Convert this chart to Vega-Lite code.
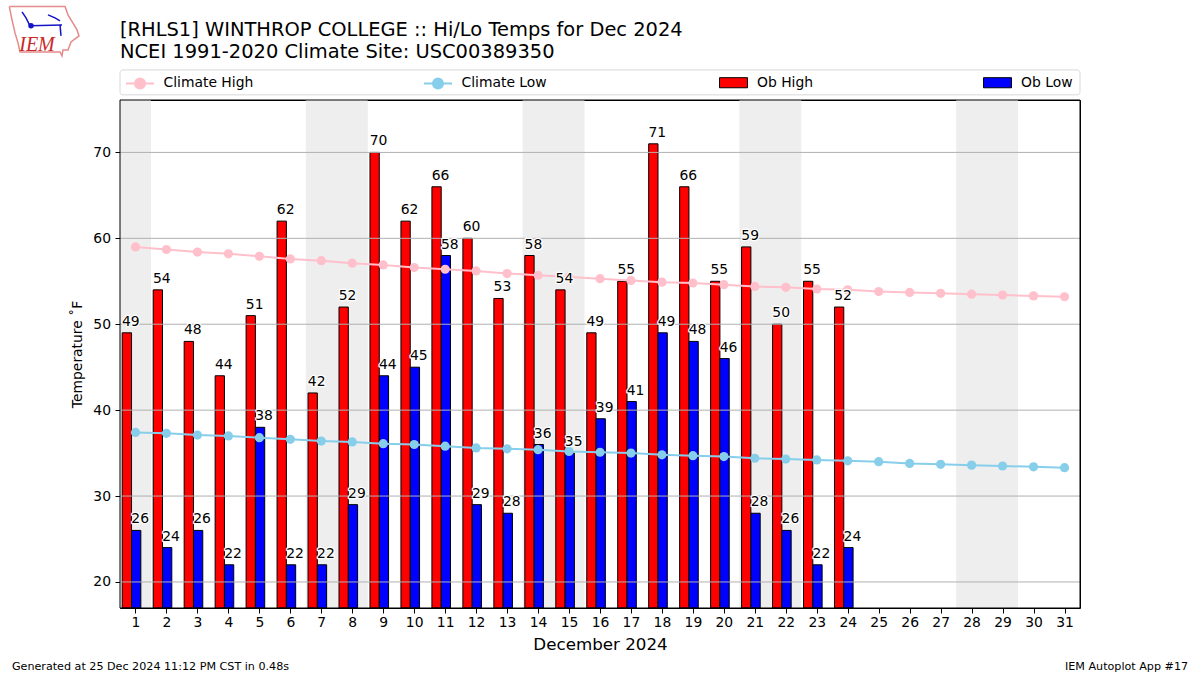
{"$schema":"https://vega.github.io/schema/vega-lite/v6.json","width":960,"height":508,"autosize":{"type":"none"},"padding":{"left":120,"top":100,"right":120,"bottom":67},"background":"white","config":{"font":"DejaVu Sans","view":{"stroke":"black","strokeWidth":1},"axis":{"labelColor":"black","titleColor":"black","tickColor":"black","labelFontSize":13.9,"titleFontWeight":"normal","grid":false,"domain":false,"tickSize":5,"labelOverlap":false,"labelFlush":false},"legend":{"labelFontSize":13.9,"labelColor":"black","title":null,"padding":0}},"title":{"text":["[RHLS1] WINTHROP COLLEGE :: Hi/Lo Temps for Dec 2024","NCEI 1991-2020 Climate Site: USC00389350"],"anchor":"start","frame":"group","fontSize":19.45,"fontWeight":"normal","color":"black","lineHeight":22,"offset":0,"dy":58.7},"datasets":{"weekends":[{"start":0.5,"end":1.5},{"start":6.5,"end":8.5},{"start":13.5,"end":15.5},{"start":20.5,"end":22.5},{"start":27.5,"end":29.5}],"gridlines":[{"temp":20},{"temp":30},{"temp":40},{"temp":50},{"temp":60},{"temp":70}],"obs":[{"day":1,"high":49,"low":26},{"day":2,"high":54,"low":24},{"day":3,"high":48,"low":26},{"day":4,"high":44,"low":22},{"day":5,"high":51,"low":38},{"day":6,"high":62,"low":22},{"day":7,"high":42,"low":22},{"day":8,"high":52,"low":29},{"day":9,"high":70,"low":44},{"day":10,"high":62,"low":45},{"day":11,"high":66,"low":58},{"day":12,"high":60,"low":29},{"day":13,"high":53,"low":28},{"day":14,"high":58,"low":36},{"day":15,"high":54,"low":35},{"day":16,"high":49,"low":39},{"day":17,"high":55,"low":41},{"day":18,"high":71,"low":49},{"day":19,"high":66,"low":48},{"day":20,"high":55,"low":46},{"day":21,"high":59,"low":28},{"day":22,"high":50,"low":26},{"day":23,"high":55,"low":22},{"day":24,"high":52,"low":24}],"climate":[{"day":1,"series":"Climate High","temp":59.0},{"day":2,"series":"Climate High","temp":58.7},{"day":3,"series":"Climate High","temp":58.4},{"day":4,"series":"Climate High","temp":58.2},{"day":5,"series":"Climate High","temp":57.9},{"day":6,"series":"Climate High","temp":57.6},{"day":7,"series":"Climate High","temp":57.4},{"day":8,"series":"Climate High","temp":57.1},{"day":9,"series":"Climate High","temp":56.9},{"day":10,"series":"Climate High","temp":56.6},{"day":11,"series":"Climate High","temp":56.4},{"day":12,"series":"Climate High","temp":56.2},{"day":13,"series":"Climate High","temp":55.9},{"day":14,"series":"Climate High","temp":55.7},{"day":15,"series":"Climate High","temp":55.5},{"day":16,"series":"Climate High","temp":55.3},{"day":17,"series":"Climate High","temp":55.1},{"day":18,"series":"Climate High","temp":54.9},{"day":19,"series":"Climate High","temp":54.8},{"day":20,"series":"Climate High","temp":54.6},{"day":21,"series":"Climate High","temp":54.4},{"day":22,"series":"Climate High","temp":54.3},{"day":23,"series":"Climate High","temp":54.1},{"day":24,"series":"Climate High","temp":54.0},{"day":25,"series":"Climate High","temp":53.8},{"day":26,"series":"Climate High","temp":53.7},{"day":27,"series":"Climate High","temp":53.6},{"day":28,"series":"Climate High","temp":53.5},{"day":29,"series":"Climate High","temp":53.4},{"day":30,"series":"Climate High","temp":53.3},{"day":31,"series":"Climate High","temp":53.2},{"day":1,"series":"Climate Low","temp":37.4},{"day":2,"series":"Climate Low","temp":37.3},{"day":3,"series":"Climate Low","temp":37.1},{"day":4,"series":"Climate Low","temp":37.0},{"day":5,"series":"Climate Low","temp":36.8},{"day":6,"series":"Climate Low","temp":36.6},{"day":7,"series":"Climate Low","temp":36.4},{"day":8,"series":"Climate Low","temp":36.3},{"day":9,"series":"Climate Low","temp":36.1},{"day":10,"series":"Climate Low","temp":36.0},{"day":11,"series":"Climate Low","temp":35.8},{"day":12,"series":"Climate Low","temp":35.6},{"day":13,"series":"Climate Low","temp":35.5},{"day":14,"series":"Climate Low","temp":35.4},{"day":15,"series":"Climate Low","temp":35.2},{"day":16,"series":"Climate Low","temp":35.1},{"day":17,"series":"Climate Low","temp":35.0},{"day":18,"series":"Climate Low","temp":34.8},{"day":19,"series":"Climate Low","temp":34.7},{"day":20,"series":"Climate Low","temp":34.6},{"day":21,"series":"Climate Low","temp":34.4},{"day":22,"series":"Climate Low","temp":34.3},{"day":23,"series":"Climate Low","temp":34.2},{"day":24,"series":"Climate Low","temp":34.1},{"day":25,"series":"Climate Low","temp":34.0},{"day":26,"series":"Climate Low","temp":33.8},{"day":27,"series":"Climate Low","temp":33.7},{"day":28,"series":"Climate Low","temp":33.6},{"day":29,"series":"Climate Low","temp":33.5},{"day":30,"series":"Climate Low","temp":33.4},{"day":31,"series":"Climate Low","temp":33.3}],"logo":[{"part":"outline","seq":1,"lx":-3.074,"ly":86.97},{"part":"outline","seq":2,"lx":-1.276,"ly":86.97},{"part":"outline","seq":3,"lx":-1.179,"ly":86.01},{"part":"outline","seq":4,"lx":-0.888,"ly":84.26},{"part":"outline","seq":5,"lx":-0.824,"ly":83.56},{"part":"outline","seq":6,"lx":-1.082,"ly":82.86},{"part":"outline","seq":7,"lx":-1.179,"ly":81.93},{"part":"outline","seq":8,"lx":-1.341,"ly":81.93},{"part":"outline","seq":9,"lx":-1.373,"ly":81.23},{"part":"outline","seq":10,"lx":-1.437,"ly":81.7},{"part":"outline","seq":11,"lx":-2.729,"ly":81.7},{"part":"outline","seq":12,"lx":-2.794,"ly":82.75},{"part":"outline","seq":13,"lx":-2.89,"ly":83.91},{"part":"outline","seq":14,"lx":-2.987,"ly":85.43},{"part":"outline","seq":15,"lx":-3.074,"ly":86.97},{"part":"a","seq":1,"lx":-2.664,"ly":86.36},{"part":"a","seq":2,"lx":-2.535,"ly":85.66},{"part":"a","seq":3,"lx":-2.406,"ly":84.73},{"part":"b","seq":1,"lx":-2.406,"ly":84.73},{"part":"b","seq":2,"lx":-1.373,"ly":84.84},{"part":"c","seq":1,"lx":-1.825,"ly":86.01},{"part":"c","seq":2,"lx":-1.599,"ly":85.66},{"part":"c","seq":3,"lx":-1.437,"ly":85.31},{"part":"d","seq":1,"lx":-1.437,"ly":84.84},{"part":"d","seq":2,"lx":-1.405,"ly":83.56}]},"layer":[{"data":{"values":[{"a":1}]},"mark":{"type":"rect","fill":"white","stroke":"#d8d8d8","strokeWidth":1,"cornerRadius":3},"encoding":{"x":{"datum":0.5,"type":"quantitative"},"x2":{"datum":31.5},"y":{"datum":79.6,"type":"quantitative"},"y2":{"datum":76.7}}},{"data":{"name":"weekends"},"mark":{"type":"rect","fill":"#eeeeee"},"encoding":{"x":{"field":"start","type":"quantitative","scale":{"domain":[0.5,31.5],"nice":false,"zero":false,"padding":0},"axis":{"values":[1,2,3,4,5,6,7,8,9,10,11,12,13,14,15,16,17,18,19,20,21,22,23,24,25,26,27,28,29,30,31],"title":"December 2024","titleFontSize":16.7,"format":"d","titlePadding":8,"labelOverlap":false,"tickCount":31}},"x2":{"field":"end"}}},{"data":{"name":"obs"},"mark":{"type":"bar","size":9.3,"xOffset":-8.6,"stroke":"black","strokeWidth":1},"encoding":{"x":{"field":"day","type":"quantitative","scale":{"domain":[0.5,31.5],"nice":false,"zero":false,"padding":0}},"y":{"field":"high","type":"quantitative"},"y2":{"datum":16.97},"fill":{"datum":"Ob High","type":"nominal","scale":{"domain":["Ob High","Ob Low"],"range":["#ff0000","#0000ff"]},"legend":{"orient":"none","legendX":599,"legendY":-32,"columns":2,"columnPadding":167,"gridAlign":"all","symbolType":"M-1,-0.36H1V0.36H-1Z","symbolSize":784,"symbolStrokeColor":"black","symbolStrokeWidth":1,"labelOffset":9}}}},{"data":{"name":"obs"},"mark":{"type":"bar","size":9.3,"xOffset":0.7,"stroke":"black","strokeWidth":1},"encoding":{"x":{"field":"day","type":"quantitative","scale":{"domain":[0.5,31.5],"nice":false,"zero":false,"padding":0}},"y":{"field":"low","type":"quantitative"},"y2":{"datum":16.97},"fill":{"datum":"Ob Low","type":"nominal"}}},{"data":{"name":"gridlines"},"mark":{"type":"rule","color":"#b0b0b0","strokeWidth":1},"encoding":{"y":{"field":"temp","type":"quantitative","scale":{"domain":[16.97,76.1],"nice":false,"zero":false},"axis":{"values":[20,30,40,50,60,70],"title":"Temperature  ˚F","titleFontSize":13.9,"titlePadding":8,"labelPadding":4.5}}}},{"data":{"values":[{"a":1}]},"mark":{"type":"rect","fill":null,"fillOpacity":0,"stroke":"black","strokeWidth":1},"encoding":{"x":{"datum":0.5,"type":"quantitative"},"x2":{"datum":31.5},"y":{"datum":76.1,"type":"quantitative"},"y2":{"datum":16.97}}},{"data":{"name":"climate"},"mark":{"type":"line","strokeWidth":2},"encoding":{"x":{"field":"day","type":"quantitative"},"y":{"field":"temp","type":"quantitative"},"color":{"field":"series","type":"nominal","scale":{"domain":["Climate High","Climate Low"],"range":["#ffc0cb","#87ceeb"]},"legend":{"orient":"none","legendX":5,"legendY":-32,"columns":2,"columnPadding":166,"gridAlign":"all","symbolType":"M-1,0L1,0M0.36,0A0.36,0.36 0 1,1 -0.36,0A0.36,0.36 0 1,1 0.36,0Z","symbolSize":784,"symbolStrokeWidth":2,"labelOffset":8.5}}}},{"data":{"name":"climate"},"mark":{"type":"point","filled":true,"size":85,"opacity":1},"encoding":{"x":{"field":"day","type":"quantitative"},"y":{"field":"temp","type":"quantitative"},"color":{"field":"series","type":"nominal","legend":null}}},{"data":{"name":"obs"},"mark":{"type":"text","fontSize":13.9,"dx":-4.65,"dy":-7,"baseline":"alphabetic","align":"center","stroke":"white","strokeWidth":2.5,"strokeJoin":"round","fill":"white"},"encoding":{"x":{"field":"day","type":"quantitative"},"y":{"field":"high","type":"quantitative"},"text":{"field":"high","type":"quantitative"}}},{"data":{"name":"obs"},"mark":{"type":"text","fontSize":13.9,"dx":4.65,"dy":-7,"baseline":"alphabetic","align":"center","stroke":"white","strokeWidth":2.5,"strokeJoin":"round","fill":"white"},"encoding":{"x":{"field":"day","type":"quantitative"},"y":{"field":"low","type":"quantitative"},"text":{"field":"low","type":"quantitative"}}},{"data":{"name":"obs"},"mark":{"type":"text","fontSize":13.9,"dx":-4.65,"dy":-7,"baseline":"alphabetic","align":"center","color":"black"},"encoding":{"x":{"field":"day","type":"quantitative"},"y":{"field":"high","type":"quantitative"},"text":{"field":"high","type":"quantitative"}}},{"data":{"name":"obs"},"mark":{"type":"text","fontSize":13.9,"dx":4.65,"dy":-7,"baseline":"alphabetic","align":"center","color":"black"},"encoding":{"x":{"field":"day","type":"quantitative"},"y":{"field":"low","type":"quantitative"},"text":{"field":"low","type":"quantitative"}}},{"data":{"name":"logo"},"mark":{"type":"line","strokeWidth":1.5},"encoding":{"x":{"field":"lx","type":"quantitative"},"y":{"field":"ly","type":"quantitative"},"order":{"field":"seq"},"detail":{"field":"part"},"stroke":{"condition":{"test":"datum.part==='outline'","value":"#e48a8a"},"value":"#1414c8"}}},{"data":{"values":[{"lx":-2.374,"ly":84.73}]},"mark":{"type":"point","filled":true,"size":30,"color":"#1414c8","opacity":1},"encoding":{"x":{"field":"lx","type":"quantitative"},"y":{"field":"ly","type":"quantitative"}}},{"data":{"values":[{"lx":-2.18,"ly":81.75,"label":"IEM"}]},"mark":{"type":"text","font":"Liberation Serif","fontStyle":"italic","fontSize":20,"color":"#c82828","align":"center","baseline":"alphabetic"},"encoding":{"x":{"field":"lx","type":"quantitative"},"y":{"field":"ly","type":"quantitative"},"text":{"field":"label"}}},{"data":{"values":[{"lx":-2.99,"ly":10.1,"label":"Generated at 25 Dec 2024 11:12 PM CST in 0.48s"}]},"mark":{"type":"text","fontSize":11.15,"color":"black","align":"left","baseline":"middle"},"encoding":{"x":{"field":"lx","type":"quantitative"},"y":{"field":"ly","type":"quantitative"},"text":{"field":"label"}}},{"data":{"values":[{"lx":34.99,"ly":10.1,"label":"IEM Autoplot App #17"}]},"mark":{"type":"text","fontSize":11.15,"color":"black","align":"right","baseline":"middle"},"encoding":{"x":{"field":"lx","type":"quantitative"},"y":{"field":"ly","type":"quantitative"},"text":{"field":"label"}}}]}
